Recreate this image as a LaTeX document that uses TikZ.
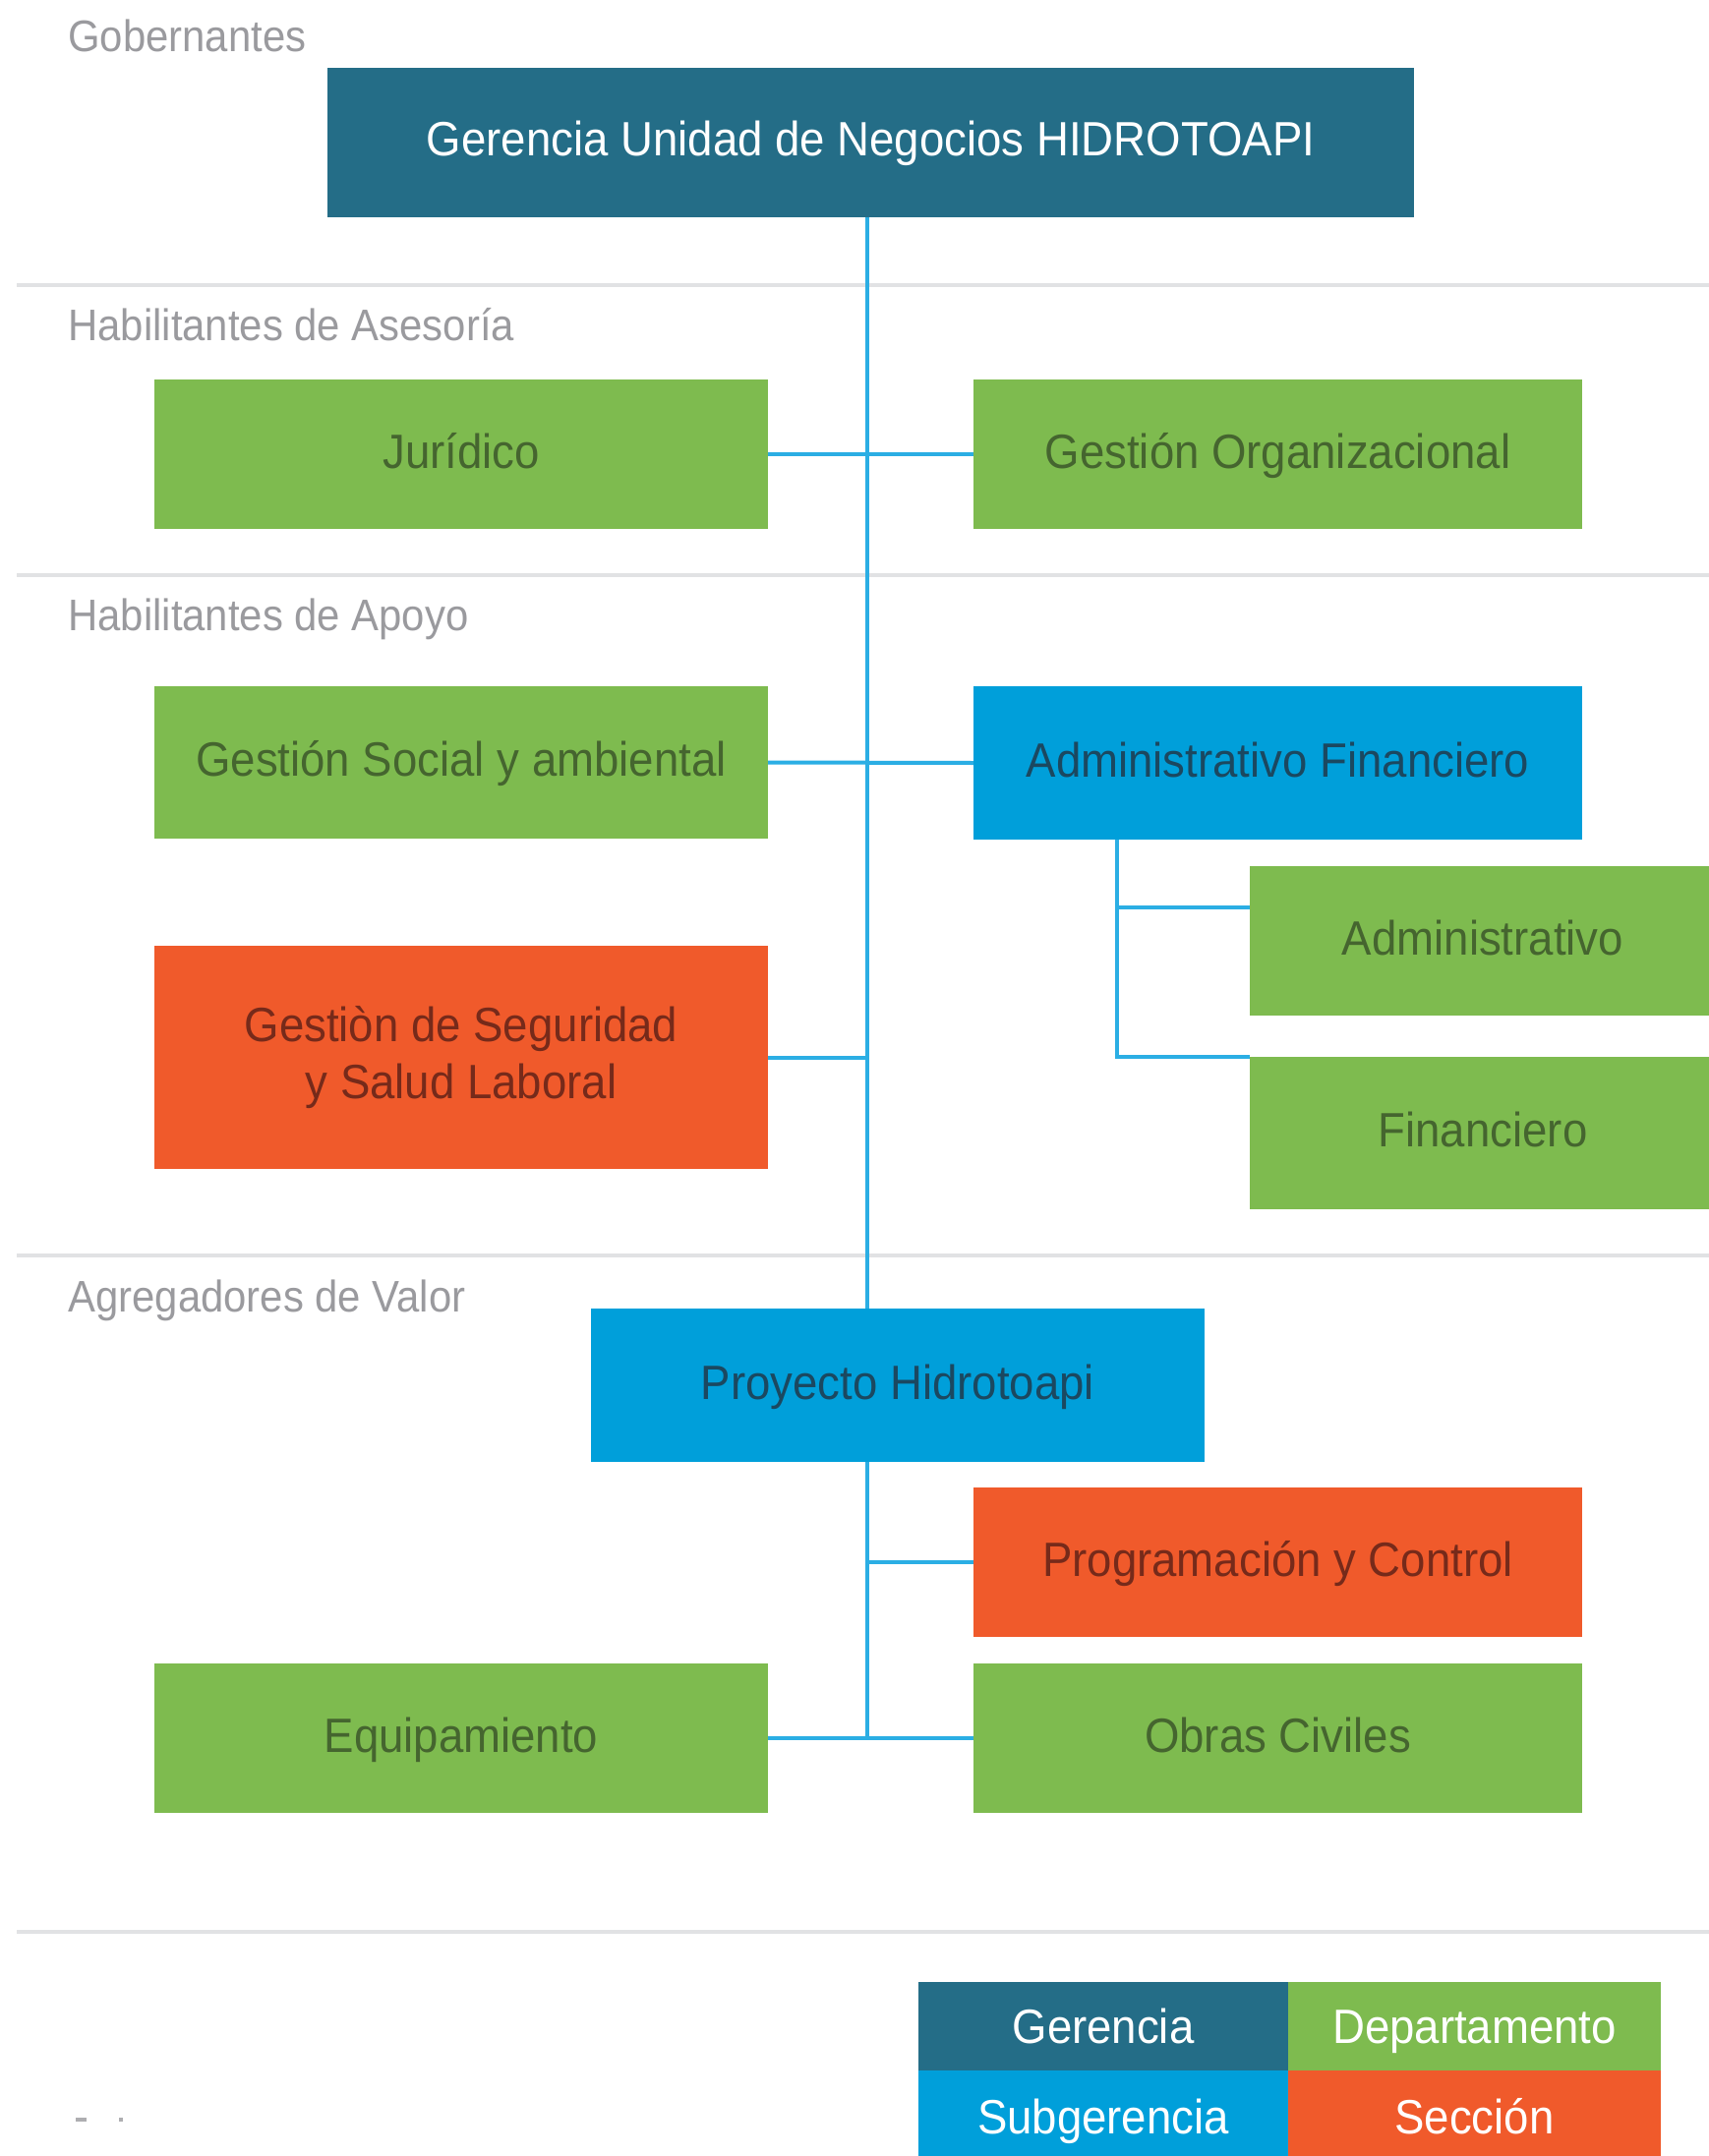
\documentclass[tikz,border=0pt]{standalone}
\usepackage{fontspec}
\setmainfont[FakeStretch=0.93]{Liberation Sans}
\usetikzlibrary{calc}
\definecolor{gerC}{HTML}{246D87}
\definecolor{depC}{HTML}{7EBB4F}
\definecolor{subC}{HTML}{009FDA}
\definecolor{secC}{HTML}{F05A2B}
\definecolor{lineC}{HTML}{2BAEE4}
\definecolor{sepC}{HTML}{E1E2E4}
\definecolor{lblC}{HTML}{9A9A9E}
\definecolor{depT}{HTML}{45652F}
\definecolor{subT}{HTML}{1B4860}
\definecolor{secT}{HTML}{762A1A}
\begin{document}
\begin{tikzpicture}[x=0.5pt,y=-0.5pt,
  boxbase/.style={rectangle, inner sep=0pt, outer sep=0pt, draw=none,
    font=\fontsize{24.5pt}{29pt}\selectfont, align=center},
  one/.style={text height=14pt, text depth=0pt},
  wh/.style 2 args={minimum width=#1*0.5pt, minimum height=#2*0.5pt},
  gerbox/.style={boxbase, fill=gerC, text=white},
  depbox/.style={boxbase, fill=depC, text=depT},
  subbox/.style={boxbase, fill=subC, text=subT},
  secbox/.style={boxbase, fill=secC, text=secT},
  legbox/.style={boxbase, text=white, text height=17pt, text depth=0pt},
  lbl/.style={anchor=base west, inner sep=0pt, text=lblC,
    font=\fontsize{22.5pt}{27pt}\selectfont},
  sep/.style={draw=sepC, line width=2pt},
  conn/.style={draw=lineC, line width=2pt}]

\useasboundingbox (0,0) rectangle (1738,2193);
\fill[white] (0,0) rectangle (1738,2193);

% separators
\draw[sep] (17,290) -- (1738,290);
\draw[sep] (17,584.5) -- (1738,584.5);
\draw[sep] (17,1277) -- (1738,1277);
\draw[sep] (17,1965) -- (1738,1965);

% section labels
\node[lbl] (lgob) at (69,53) {Gobernantes};
\node[lbl] (lase) at (69,347) {Habilitantes de Asesoría};
\node[lbl] (lapo) at (69,641) {Habilitantes de Apoyo};
\node[lbl] (lagr) at (69,1334) {Agregadores de Valor};

% boxes
\node[gerbox, one, wh={1105}{152}] (top) at (885.5,145) {Gerencia Unidad de Negocios HIDROTOAPI};
\node[depbox, one, wh={624}{152}] (jur) at (469,462) {Jurídico};
\node[depbox, one, wh={619}{152}] (gorg) at (1299.5,462) {Gestión Organizacional};
\node[depbox, one, wh={624}{155}] (gsoc) at (469,775.5) {Gestión Social y ambiental};
\node[subbox, one, wh={619}{156}] (adf) at (1299.5,776) {Administrativo Financiero};
\node[depbox, one, wh={474}{152}] (adm) at (1508,957) {Administrativo};
\node[depbox, one, wh={474}{155}] (fin) at (1508,1152.5) {Financiero};
\node[secbox, wh={624}{227}] (seg) at (469,1075.5) {Gestiòn de Seguridad\\y Salud Laboral};
\node[subbox, one, wh={624}{156}] (proy) at (913,1409) {Proyecto Hidrotoapi};
\node[secbox, one, wh={619}{152}] (prog) at (1299.5,1589) {Programación y Control};
\node[depbox, one, wh={619}{152}] (obras) at (1299.5,1768) {Obras Civiles};
\node[depbox, one, wh={624}{152}] (equip) at (469,1768) {Equipamiento};

% legend
\node[legbox, fill=gerC, wh={376}{90}] (lg1) at (1122,2061) {Gerencia};
\node[legbox, fill=depC, wh={379}{90}] (lg2) at (1499.5,2061) {Departamento};
\node[legbox, fill=subC, wh={376}{94}] (lg3) at (1122,2153) {Subgerencia};
\node[legbox, fill=secC, wh={379}{94}] (lg4) at (1499.5,2153) {Sección};

% connectors
\coordinate (sp) at (882,0);
\draw[conn] (top.south -| sp) -- (proy.north -| sp);
\draw[conn] (jur.east) -- (gorg.west);
\draw[conn] (gsoc.east) -- (adf.west);
\draw[conn] (seg.east) -- (seg.east -| sp);
\coordinate (ab) at ($(adf.south west)+(146,0)$);
\coordinate (abadm) at ($(adm.north west)+(0,42)$);
\draw[conn] (ab) |- (abadm);
\draw[conn] (ab) |- (fin.north west);
\draw[conn] (proy.south -| sp) -- (equip.east -| sp);
\draw[conn] (prog.west -| sp) -- (prog.west);
\draw[conn] (equip.east) -- (obras.west);

% tiny marks bottom left
\fill[lblC!80] (77,2154) rectangle (88,2158);
\fill[lblC!80] (121,2154) rectangle (125,2158);
\end{tikzpicture}
\end{document}
